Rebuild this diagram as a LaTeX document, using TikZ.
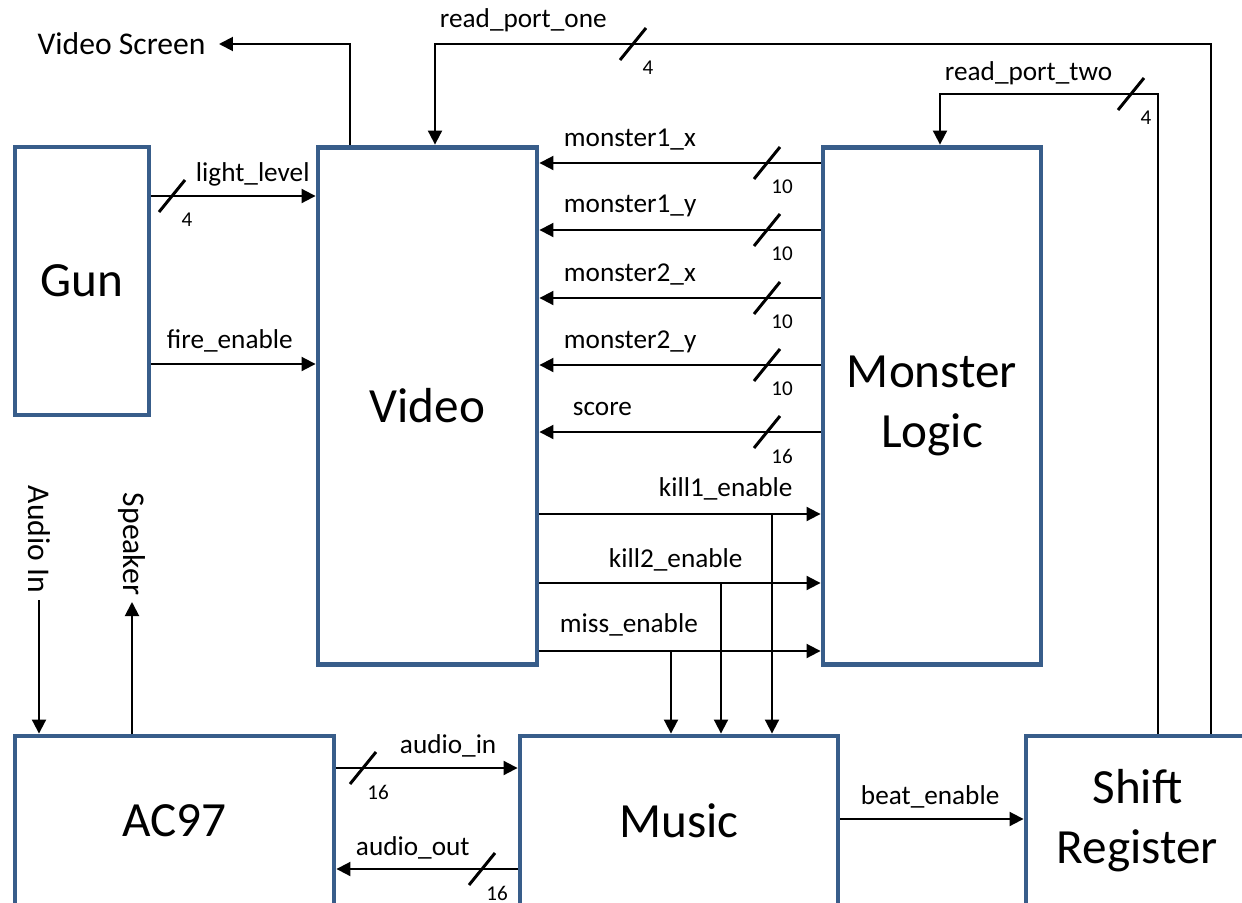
\documentclass[tikz,border=0pt]{standalone}
\usepackage{fontspec}
\setmainfont{Carlito}
\usepackage{tikz}
\usetikzlibrary{arrows.meta}
\definecolor{boxblue}{HTML}{385D8A}
\newcommand{\busw}[4]{\draw[slash](#2-13,#3+16)--(#2+13,#3-16);
\node(#1)at(#2+15,#3+24)[num]{#4};}

\begin{document}
\begin{tikzpicture}[x=0.02cm,y=-0.02cm,>={Triangle[length=0.28cm,width=0.28cm]},line width=1.1pt]
\tikzstyle{blk}=[rectangle,draw=boxblue,line width=2.8pt,fill=white,font=\fontsize{28}{34}\selectfont,align=center,inner sep=0pt]
\tikzstyle{sig}=[anchor=base west,inner sep=0pt,font=\fontsize{15.5}{18}\selectfont]
\tikzstyle{num}=[inner sep=0pt,font=\fontsize{12}{14}\selectfont]
\tikzstyle{ext}=[font=\fontsize{18}{22}\selectfont]
\tikzstyle{slash}=[line width=1.7pt]
\useasboundingbox(0,0)rectangle(1242,903);
\node(gun)at(82,281)[blk,minimum width=2.68cm,minimum height=5.36cm]{Gun};
\node(video)at(427.5,406)[blk,minimum width=4.38cm,minimum height=10.36cm]{Video};
\node(logic)at(932,406)[blk,minimum width=4.36cm,minimum height=10.36cm]{Monster\\Logic};
\node(ac97)at(174.5,821)[blk,minimum width=6.38cm,minimum height=3.4cm]{AC97};
\node(music)at(679,821)[blk,minimum width=6.36cm,minimum height=3.4cm]{Music};
\node(shift)at(1137.5,821)[blk,minimum width=4.46cm,minimum height=3.4cm]{Shift\\Register};
\node(screen)at(219,44)[ext,anchor=east,inner xsep=0.25cm,inner ysep=0pt]{Video Screen};
\node(audio-in)at(39,600)[ext,rotate=-90,anchor=east,inner sep=0.12cm]{Audio In};
\node(speaker)at(132,602)[ext,rotate=-90,anchor=east,inner sep=0.12cm]{Speaker};
\draw[->](video.north -| 350,0)|-(screen.east);
\draw[->](shift.north -| 1211,0)|-(435,44)--(video.north -| 435,0);
\busw{n-rp1}{633}{44}{4}
\node(rp1-lbl)at(439,27)[sig]{read\_port\_one};
\draw[->](shift.north -| 1158,0)|-(940,94)--(logic.north -| 940,0);
\busw{n-rp2}{1131}{94}{4}
\node(rp2-lbl)at(944,80)[sig]{read\_port\_two};
\draw[->](gun.east |- 0,196)--(video.west |- 0,196);
\busw{n-light}{172}{196}{4}
\node(light-lbl)at(195,181)[sig]{light\_level};
\draw[->](gun.east |- 0,364)--(video.west |- 0,364);
\node(fire-lbl)at(166,348)[sig]{fire\_enable};
\draw[->](logic.west |- 0,163)--(video.east |- 0,163);
\busw{n-m1x}{767}{163}{10}
\node(m1x-lbl)at(563,146)[sig]{monster1\_x};
\draw[->](logic.west |- 0,230)--(video.east |- 0,230);
\busw{n-m1y}{767}{230}{10}
\node(m1y-lbl)at(563,212)[sig]{monster1\_y};
\draw[->](logic.west |- 0,298)--(video.east |- 0,298);
\busw{n-m2x}{767}{298}{10}
\node(m2x-lbl)at(563,281)[sig]{monster2\_x};
\draw[->](logic.west |- 0,365)--(video.east |- 0,365);
\busw{n-m2y}{767}{365}{10}
\node(m2y-lbl)at(563,348)[sig]{monster2\_y};
\draw[->](logic.west |- 0,432)--(video.east |- 0,432);
\busw{n-score}{767}{432}{16}
\node(score-lbl)at(572,415)[sig]{score};
\draw[->](video.east |- 0,514)--(logic.west |- 0,514);
\node(kill1-lbl)at(658,496)[sig]{kill1\_enable};
\draw[->](772,514)--(music.north -| 772,0);
\draw[->](video.east |- 0,583)--(logic.west |- 0,583);
\node(kill2-lbl)at(608,567)[sig]{kill2\_enable};
\draw[->](721,583)--(music.north -| 721,0);
\draw[->](video.east |- 0,651)--(logic.west |- 0,651);
\node(miss-lbl)at(559,632)[sig]{miss\_enable};
\draw[->](671,651)--(music.north -| 671,0);
\draw[->](audio-in.east)--(audio-in.east |- ac97.north);
\draw[->](speaker.east |- ac97.north)--(speaker.east);
\draw[->](ac97.east |- 0,768)--(music.west |- 0,768);
\busw{n-ain}{363}{768}{16}
\node(ain-lbl)at(399,753)[sig]{audio\_in};
\draw[->](music.west |- 0,869)--(ac97.east |- 0,869);
\busw{n-aout}{482}{869}{16}
\node(aout-lbl)at(355,855)[sig]{audio\_out};
\draw[->](music.east |- 0,819)--(shift.west |- 0,819);
\node(beat-lbl)at(860,804)[sig]{beat\_enable};
\end{tikzpicture}
\end{document}
